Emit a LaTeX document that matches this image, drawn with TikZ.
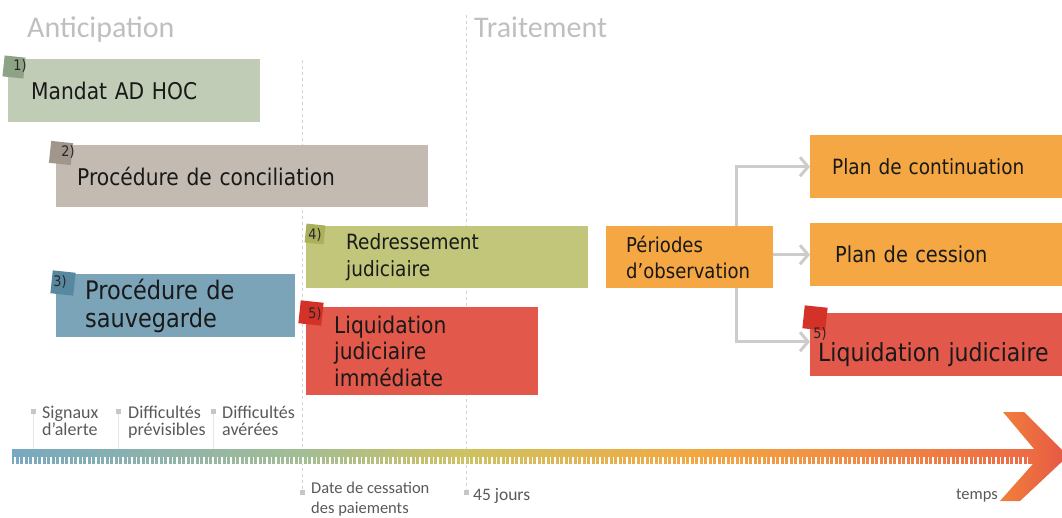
\documentclass[tikz,border=0pt]{standalone}
\usepackage{fontspec}
\setmainfont{DejaVu Sans}
\newfontfamily\tahoma[FakeStretch=0.88]{DejaVu Sans}
\newfontfamily\calibri{Carlito}
\usetikzlibrary{arrows.meta}

\definecolor{mandat}{RGB}{192,204,182}
\definecolor{mandatfonce}{RGB}{142,163,133}
\definecolor{concil}{RGB}{195,187,177}
\definecolor{concilfonce}{RGB}{160,150,140}
\definecolor{sauveg}{RGB}{123,164,184}
\definecolor{sauvegfonce}{RGB}{88,136,160}
\definecolor{redress}{RGB}{194,198,122}
\definecolor{redressfonce}{RGB}{170,176,92}
\definecolor{liquid}{RGB}{226,88,74}
\definecolor{liquidfonce}{RGB}{212,50,40}
\definecolor{orange}{RGB}{244,167,66}

\newcommand{\taille}[2]{\fontsize{#1}{#2}\selectfont}

\pgfdeclarehorizontalshading{frise}{100bp}{%
  rgb(0bp)=(0.47,0.66,0.76); rgb(25bp)=(0.47,0.66,0.76);
  rgb(39bp)=(0.64,0.74,0.58); rgb(47bp)=(0.81,0.76,0.38);
  rgb(58bp)=(0.95,0.66,0.26); rgb(75bp)=(0.93,0.41,0.27);
  rgb(100bp)=(0.93,0.41,0.27)}

\tikzset{
  etape/.style={anchor=north west, inner ysep=0pt, align=left, text=black!90},
  pastille/.style={minimum size=#1, inner sep=0pt, rotate=-6},
  numero/.style={font=\tahoma\taille{14.5}{15}, inner sep=0pt, text=black!85},
  repere/.style={fill=gray!45, minimum size=5pt, inner sep=0pt},
  legende/.style={font=\calibri\taille{18}{17}, text=black!65, align=left, inner sep=0pt},
  titre/.style={font=\calibri\taille{30}{30}, text=gray!50, inner sep=0pt, anchor=base west},
  fleche/.style={draw=gray!40, line width=3pt,
    -{Straight Barb[length=8pt, width=19pt, line width=3pt]}},
  pointille/.style={gray!35, line width=1pt, dash pattern=on 3pt off 3pt},
}

\begin{document}
\begin{tikzpicture}[x=1pt, y=-1pt]
\useasboundingbox (0,0) rectangle (1062,517);

%% ---- Separations (pointilles) ----
\draw[pointille] (302,60) -- (302,490);
\draw[pointille] (466,15) -- (466,492);
\node[titre] (ant) at (27,37) {Anticipation};
\node[titre] (trt) at (474,37) {Traitement};

%% ---- Procedures ----
\node[etape, fill=mandat, minimum width=252pt, minimum height=63pt, inner xsep=23pt,
      text width=206pt, font=\tahoma\taille{23}{27}] (adhoc) at (8,59) {Mandat AD HOC};
\node[etape, fill=concil, minimum width=372pt, minimum height=62pt, inner xsep=21pt,
      text width=330pt, font=\tahoma\taille{23}{27}] (concil) at (56,145) {Procédure de conciliation};
\node[etape, fill=sauveg, minimum width=239pt, minimum height=63pt, inner xsep=29pt,
      text width=181pt, font=\tahoma\taille{25.5}{28}] (sauv) at (56,274) {Procédure de\\sauvegarde};
\node[etape, fill=redress, minimum width=282pt, minimum height=62pt, inner xsep=40pt,
      text width=202pt, font=\tahoma\taille{21}{27}] (rj) at (306,226) {Redressement\\judiciaire};
\node[etape, fill=liquid, minimum width=232pt, minimum height=88pt, inner xsep=28pt,
      text width=176pt, font=\tahoma\taille{23}{26.5}] (lji) at (306,307) {Liquidation\\judiciaire\\immédiate};
\node[etape, fill=orange, minimum width=167pt, minimum height=62pt, inner xsep=20pt,
      text width=127pt, font=\tahoma\taille{20.5}{26}] (obs) at (606,226) {Périodes\\d’observation};
\node[etape, fill=orange, minimum width=252pt, minimum height=63pt, inner xsep=22pt,
      text width=208pt, font=\tahoma\taille{21}{25}] (cont) at (810,135) {Plan de continuation};
\node[etape, fill=orange, minimum width=252pt, minimum height=63pt, inner xsep=25pt,
      text width=202pt, font=\tahoma\taille{22}{25}] (cess) at (810,223) {Plan de cession};
\node[etape, fill=liquid, minimum width=252pt, minimum height=63pt, inner xsep=8pt,
      text width=236pt, text height=38pt, font=\tahoma\taille{25}{28}] (lj) at (810,313) {Liquidation judiciaire};

%% ---- Pastilles numerotees ----
\node[pastille=21pt, fill=mandatfonce]  (p1)  at (14,67)  {};
\node[pastille=22pt, fill=concilfonce]  (p2)  at (61,153) {};
\node[pastille=23pt, fill=sauvegfonce]  (p3)  at (63,283) {};
\node[pastille=19pt, fill=redressfonce] (p4)  at (315,234) {};
\node[pastille=23pt, fill=liquidfonce]  (p5)  at (311,313) {};
\node[pastille=23pt, fill=liquidfonce]  (p5b) at (815,318) {};
\node[numero] (n1)  at (20,66)  {1)};
\node[numero] (n2)  at (68,152) {2)};
\node[numero] (n3)  at (60,282) {3)};
\node[numero] (n4)  at (315,235) {4)};
\node[numero] (n5)  at (315,314) {5)};
\node[numero] (n5b) at (820,334) {5)};

%% ---- Issues de la periode d'observation ----
\draw[fleche] ([xshift=-37pt]obs.north east) |- (cont.west);
\draw[fleche] (obs.east |- cess.west) -- (cess.west);
\draw[fleche] ([xshift=-37pt]obs.south east) |- ([yshift=3pt]lj.west);

%% ---- Frise du temps ----
\shade[shading=frise] (12,449) rectangle (1042,463.5);
\foreach \i in {0,...,225} \fill[white] ({14+4.5*\i},457) rectangle +(1.6,6.5);
\shade[left color={rgb,255:red,241;green,128;blue,58}, right color={rgb,255:red,229;green,86;blue,70}]
  (1003,412) -- (1024,412) -- (1068,456) -- (1020,501) -- (1000,501) -- (1040,456) -- cycle;

%% ---- Reperes ----
\foreach \x in {33,118,213} \draw[gray!20, thin] (\x,411) -- (\x,449);
\node[repere] (r1) at (33,411) {};
\node[repere] (r2) at (118,411) {};
\node[repere] (r3) at (213,411) {};
\node[repere] (r4) at (302,492) {};
\node[repere] (r5) at (466,492) {};
\node[legende, anchor=north west] (signaux) at (42,406)  {Signaux\\d’alerte};
\node[legende, anchor=north west] (prev)    at (128,406) {Difficultés\\prévisibles};
\node[legende, anchor=north west] (aver)    at (222,406) {Difficultés\\avérées};
\node[legende, anchor=north west, font=\calibri\taille{16.5}{20}] (cessation) at (311,482) {Date de cessation\\des paiements};
\node[legende, anchor=west, font=\calibri\taille{17.5}{20}] (jours) at (473,496) {45 jours};
\node[legende, anchor=east, font=\calibri\taille{16.5}{20}] (temps) at (998,496) {temps};

\end{tikzpicture}
\end{document}
